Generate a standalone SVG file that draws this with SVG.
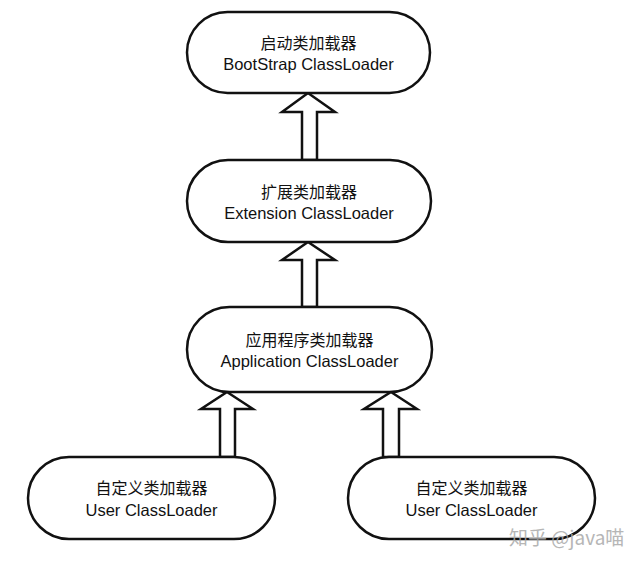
<svg xmlns="http://www.w3.org/2000/svg" width="640" height="566" viewBox="0 0 640 566">
<style>
.node{fill:#fff;stroke:#111;stroke-width:2.5}
.arr{fill:#fff;stroke:#111;stroke-width:2.5;stroke-linejoin:miter}
.zh{font-family:"Noto Sans CJK SC","Liberation Sans",sans-serif;font-size:16px;fill:#111;text-anchor:middle}
.en{font-family:"Liberation Sans",Arial,sans-serif;font-size:16.5px;fill:#111;text-anchor:middle}
.wm{font-family:"Noto Sans CJK SC","Liberation Sans",sans-serif;font-size:19px;fill:#aaa;opacity:0.85}
</style>
<rect width="640" height="566" fill="#fff"/>
<g id="connectors">
<polygon class="arr" points="308,93 335,112 317,112 317,160 302,160 302,112 282,112"/>
<polygon class="arr" points="308,242 335,260 317,260 317,307 302,307 302,260 282,260"/>
<polygon class="arr" points="227,392 253,409 235,409 235,457 220,457 220,409 201,409"/>
<polygon class="arr" points="391,392 417,409 399,409 399,457 383,457 383,409 364,409"/>
</g>
<g id="bootstrap">
<rect class="node" x="187" y="12" width="243" height="81" rx="40.5"/>
<text class="zh" x="308.5" y="49">启动类加载器</text>
<text class="en" x="308.5" y="70">BootStrap ClassLoader</text>
</g>
<g id="extension">
<rect class="node" x="187" y="160" width="244" height="82" rx="41"/>
<text class="zh" x="309" y="198">扩展类加载器</text>
<text class="en" x="309" y="219">Extension ClassLoader</text>
</g>
<g id="application">
<rect class="node" x="187" y="307" width="245" height="85" rx="42.5"/>
<text class="zh" x="309.5" y="346">应用程序类加载器</text>
<text class="en" x="309.5" y="367">Application ClassLoader</text>
</g>
<g id="user1">
<rect class="node" x="28" y="457" width="247" height="82" rx="41"/>
<text class="zh" x="151.5" y="494">自定义类加载器</text>
<text class="en" x="151.5" y="516">User ClassLoader</text>
</g>
<g id="user2">
<rect class="node" x="348" y="457" width="247" height="82" rx="41"/>
<text class="zh" x="471.5" y="494">自定义类加载器</text>
<text class="en" x="471.5" y="516">User ClassLoader</text>
</g>
<text class="wm" x="509" y="545">知乎 @java喵</text>
</svg>
